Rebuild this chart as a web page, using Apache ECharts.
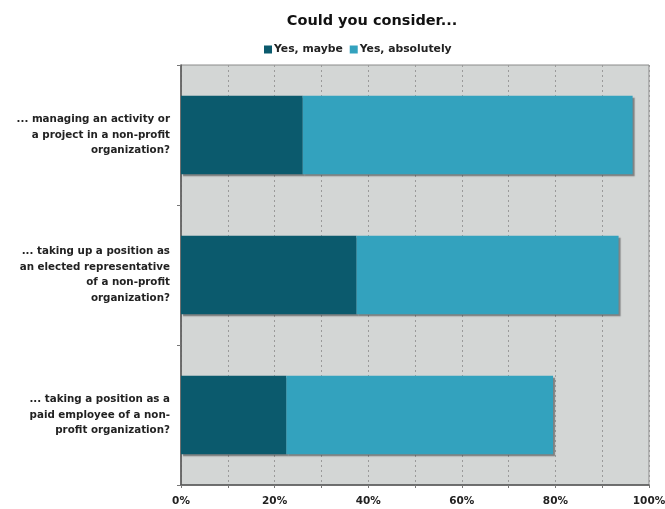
<!DOCTYPE html>
<html>
<head>
<meta charset="utf-8">
<script src="https://cdn.jsdelivr.net/npm/echarts@6/dist/echarts.min.js"></script>
<style>
  html, body { margin: 0; padding: 0; background: #ffffff; }
  #chart { width: 665px; height: 509px; }
</style>
</head>
<body>
<div id="chart"></div>
<script>
// Survey questions (top to bottom) and shares of respondents, in percent
const categories = [
  '... managing an activity or\na project in a non-profit\norganization?',
  '... taking up a position as\nan elected representative\nof a non-profit\norganization?',
  '... taking a position as a\npaid employee of a non-\nprofit organization?'
];
const yesMaybe = [26, 37.5, 22.5];
const yesAbsolutely = [70.5, 56, 57];
const tickLabels = ['0%', '20%', '40%', '60%', '80%', '100%'];

const chart = echarts.init(document.getElementById('chart'));

const barShadow = {
  shadowColor: 'rgba(60,60,60,0.55)',
  shadowBlur: 1,
  shadowOffsetX: 2,
  shadowOffsetY: 2
};

const font = 'DejaVu Sans, Liberation Sans, sans-serif';

chart.setOption({
  animation: false,
  textStyle: { fontFamily: font },
  title: {
    text: 'Could you consider...',
    left: 367,
    textAlign: 'center',
    top: 9,
    textStyle: { fontFamily: font, fontSize: 14.5, fontWeight: 'bold', color: '#111' }
  },
  legend: {
    top: 39,
    left: 259,
    itemWidth: 8,
    itemHeight: 8,
    itemGap: 7,
    icon: 'rect',
    textStyle: { fontFamily: font, fontSize: 10.8, fontWeight: 'bold', color: '#222', padding: [0, 0, 0, -3] },
    data: ['Yes, maybe', 'Yes, absolutely']
  },
  grid: {
    left: 181,
    right: 16,
    top: 65,
    bottom: 24,
    outerBoundsMode: 'none',
    show: true,
    backgroundColor: '#d3d6d5',
    borderColor: '#8a8a8a',
    borderWidth: 1
  },
  xAxis: {
    type: 'value',
    min: 0,
    max: 100,
    interval: 10,
    axisLine: { show: true, lineStyle: { color: '#555', width: 1.5 } },
    axisTick: { show: true, length: 3, lineStyle: { color: '#777' } },
    splitLine: { show: true, lineStyle: { color: '#9a9a9a', type: [2, 3], width: 1 } },
    axisLabel: {
      fontFamily: font,
      fontSize: 10.5,
      fontWeight: 'bold',
      color: '#222',
      margin: 11,
      formatter: function (v) {
        const i = tickLabels.indexOf(v + '%');
        return v % 20 === 0 && i >= 0 ? tickLabels[i] : '';
      }
    }
  },
  yAxis: {
    type: 'category',
    inverse: true,
    data: categories,
    axisLine: { show: true, lineStyle: { color: '#555', width: 1.5 } },
    axisTick: { show: true, length: 4, lineStyle: { color: '#777' } },
    axisLabel: {
      fontFamily: font,
      fontSize: 10.3,
      fontWeight: 'bold',
      color: '#222',
      lineHeight: 15.5,
      margin: 11,
      align: 'right'
    }
  },
  series: [
    {
      name: 'Yes, maybe',
      type: 'bar',
      stack: 'total',
      barWidth: '56%',
      data: yesMaybe,
      itemStyle: Object.assign({ color: '#0b5a6d' }, barShadow)
    },
    {
      name: 'Yes, absolutely',
      type: 'bar',
      stack: 'total',
      barWidth: '56%',
      data: yesAbsolutely,
      itemStyle: Object.assign({ color: '#33a2be' }, barShadow)
    }
  ]
});
</script>
</body>
</html>
